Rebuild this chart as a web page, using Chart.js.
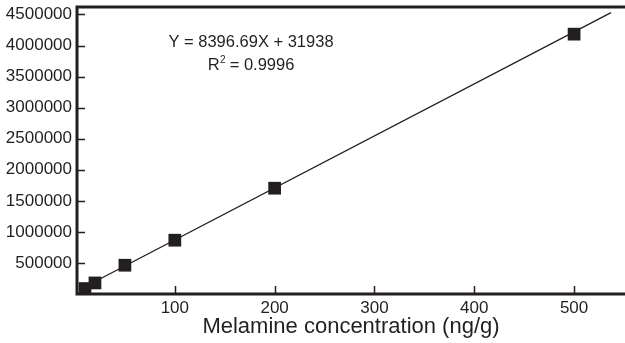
<!DOCTYPE html>
<html>
<head>
<meta charset="utf-8">
<script src="https://cdn.jsdelivr.net/npm/chart.js@4/dist/chart.umd.min.js"></script>
<style>
  html, body { margin: 0; padding: 0; background: #fff; }
  #wrap { width: 625px; height: 343px; position: relative; }
</style>
</head>
<body>
<div id="wrap"><canvas id="chart1"></canvas></div>
<script>
// measured points (ng/g vs peak area)
const concentrations = [10, 20, 50, 100, 200, 500];
const peakAreas = [88000, 178000, 463000, 866000, 1703000, 4183000];

// regression line ends
const fitX = [10, 537];
const fitY = [116000, 4530000];

const xTickVals = [100, 200, 300, 400, 500];
const yTickVals = [500000, 1000000, 1500000, 2000000, 2500000, 3000000, 3500000, 4000000, 4500000];

const equationText = 'Y = 8396.69X + 31938';
const r2Text = ['R', '2', ' = 0.9996'];

const ink = '#231f20';
const fontFam = '"Liberation Sans", Arial, sans-serif';

const framePlugin = {
  id: 'frame',
  afterDraw(chart) {
    const ctx = chart.ctx;
    const a = chart.chartArea;
    const xs = chart.scales.x;
    const ys = chart.scales.y;
    ctx.save();
    ctx.strokeStyle = ink;
    ctx.lineCap = 'butt';

    // inward tick marks
    ctx.lineWidth = 1.5;
    ctx.beginPath();
    xTickVals.forEach(v => {
      const px = Math.round(xs.getPixelForValue(v)) + 0.5;
      ctx.moveTo(px, a.bottom);
      ctx.lineTo(px, a.bottom - 8);
    });
    yTickVals.forEach(v => {
      const py = Math.round(ys.getPixelForValue(v)) + 0.5;
      ctx.moveTo(a.left, py);
      ctx.lineTo(a.left + 8, py);
    });
    ctx.stroke();

    // axes box (left, bottom, top)
    ctx.lineWidth = 3;
    ctx.beginPath();
    ctx.moveTo(chart.width, a.top);
    ctx.lineTo(a.left, a.top);
    ctx.lineTo(a.left, a.bottom);
    ctx.lineTo(chart.width, a.bottom);
    ctx.stroke();

    // equation text
    ctx.fillStyle = ink;
    ctx.textBaseline = 'alphabetic';
    ctx.textAlign = 'left';
    const cx = 251;
    ctx.font = '16.5px ' + fontFam;
    const w1 = ctx.measureText(equationText).width;
    ctx.fillText(equationText, cx - w1 / 2, 46.5);

    const wR = ctx.measureText(r2Text[0]).width;
    const wRest = ctx.measureText(r2Text[2]).width;
    ctx.font = '10px ' + fontFam;
    const wSup = ctx.measureText(r2Text[1]).width;
    let x0 = cx - (wR + wSup + wRest) / 2;
    ctx.font = '16.5px ' + fontFam;
    ctx.fillText(r2Text[0], x0, 70);
    ctx.font = '10px ' + fontFam;
    ctx.fillText(r2Text[1], x0 + wR + 0.5, 62.5);
    ctx.font = '16.5px ' + fontFam;
    ctx.fillText(r2Text[2], x0 + wR + wSup, 70);
    ctx.restore();
  }
};

const chartCanvas = document.getElementById('chart1');
const chart1 = new Chart(chartCanvas.getContext('2d'), {
  type: 'scatter',
  data: {
    datasets: [
      {
        data: concentrations.map((c, i) => ({ x: c, y: peakAreas[i] })),
        pointStyle: 'rect',
        pointRadius: 9,
        pointBorderWidth: 0,
        backgroundColor: ink,
        borderColor: ink,
        showLine: false,
      },
      {
        data: fitX.map((c, i) => ({ x: c, y: fitY[i] })),
        showLine: true,
        pointRadius: 0,
        borderColor: ink,
        borderWidth: 1.3,
        fill: false,
      }
    ]
  },
  options: {
    responsive: true,
    maintainAspectRatio: false,
    animation: false,
    layout: { autoPadding: false, padding: { top: 7, right: 0, left: 0, bottom: 0 } },
    plugins: {
      legend: { display: false },
      tooltip: { enabled: false },
      title: { display: false },
    },
    scales: {
      x: {
        type: 'linear',
        min: 2,
        max: 551,
        afterBuildTicks: s => { s.ticks = xTickVals.map(v => ({ value: v })); },
        afterFit: s => { s.height = 49; s.paddingLeft = 0; s.paddingRight = 0; },
        grid: { display: false, drawTicks: false },
        border: { display: false },
        ticks: {
          color: ink,
          padding: 4,
          maxRotation: 0,
          autoSkip: false,
          font: { family: fontFam, size: 17 },
        },
        title: {
          display: true,
          text: 'Melamine concentration (ng/g)',
          color: ink,
          padding: { top: 0, bottom: 3 },
          font: { family: fontFam, size: 22 },
        },
      },
      y: {
        type: 'linear',
        min: 0,
        max: 4620000,
        afterBuildTicks: s => { s.ticks = yTickVals.map(v => ({ value: v })); },
        afterFit: s => { s.width = 77; s.paddingTop = 0; s.paddingBottom = 0; },
        grid: { display: false, drawTicks: false },
        border: { display: false },
        ticks: {
          color: ink,
          padding: 5,
          autoSkip: false,
          callback: v => String(v),
          font: { family: fontFam, size: 17 },
        },
      },
    },
  },
  plugins: [framePlugin],
});
</script>
</body>
</html>
